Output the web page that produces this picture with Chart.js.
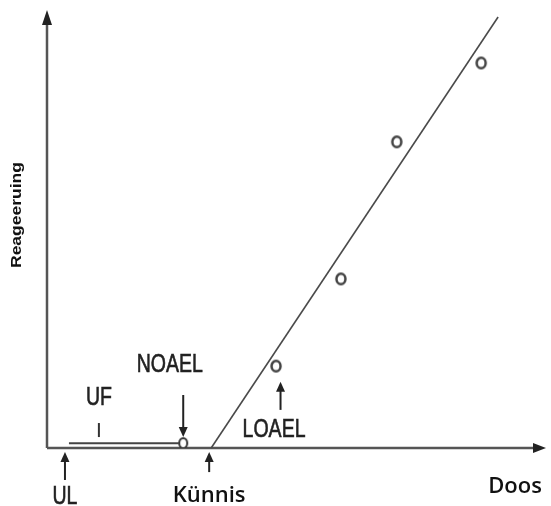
<!DOCTYPE html>
<html>
<head>
<meta charset="utf-8">
<script src="https://cdn.jsdelivr.net/npm/chart.js@4.4.0/dist/chart.umd.min.js"></script>
<style>
  html, body { margin: 0; padding: 0; background: #fff; }
  #wrap { width: 551px; height: 506px; }
</style>
</head>
<body>
<div id="wrap"><canvas id="doseChart" width="551" height="506"></canvas></div>
<script>
// observed responses (dose, response), arbitrary units 0-100
const obsDose = [45.9, 58.9, 70.1, 87.0];
const obsResponse = [18.7, 38.6, 69.9, 87.9];

// fitted line from the threshold upward
const fitDose = [32.9, 90.4];
const fitResponse = [0, 98.4];

// UF segment, from UL to NOAEL
const ufDose = [4.4, 26.5];
const ufResponse = [1.1, 1.1];
const noaelDose = [27.3];
const noaelResponse = [1.1];

// text labels
const labelText = ['NOAEL', 'UF', 'LOAEL', 'UL', 'Künnis', 'Doos'];
const labelDose = [24.6, 10.4, 45.5, 3.6, 32.5, 93.8];
const labelResponse = [18.9, 11.4, 4.1, -11.2, -11.0, -8.9];

// pointer arrows: dose, tail response, head response
const arrowDose = [27.3, 3.6, 32.5, 46.8];
const arrowFrom = [12.1, -7.3, -5.5, 8.7];
const arrowTo = [2.5, -0.9, -0.9, 15.1];

const axisTitleX = 'Doos';
const axisTitleY = 'Reageeruing';

function toPoints(xs, ys) {
    return xs.map((x, i) => ({ x: x, y: ys[i] }));
}

// slightly tall "o" marker like in the drawing
function ovalMarker(rx, ry, lw, color) {
    const c = document.createElement('canvas');
    c.width = Math.ceil(2 * rx + lw + 2);
    c.height = Math.ceil(2 * ry + lw + 2);
    const g = c.getContext('2d');
    g.fillStyle = '#fff';
    g.strokeStyle = color;
    g.lineWidth = lw;
    g.beginPath();
    g.ellipse(c.width / 2, c.height / 2, rx, ry, 0, 0, Math.PI * 2);
    g.fill();
    g.stroke();
    return c;
}

function arrowHead(ctx, x, y, dir, w, h) {
    // dir: 'up', 'down', 'right'
    ctx.beginPath();
    if (dir === 'up') {
        ctx.moveTo(x, y); ctx.lineTo(x - w / 2, y + h); ctx.lineTo(x + w / 2, y + h);
    } else if (dir === 'down') {
        ctx.moveTo(x, y); ctx.lineTo(x - w / 2, y - h); ctx.lineTo(x + w / 2, y - h);
    } else {
        ctx.moveTo(x, y); ctx.lineTo(x - h, y - w / 2); ctx.lineTo(x - h, y + w / 2);
    }
    ctx.closePath();
    ctx.fill();
}

const diagramPlugin = {
    id: 'diagram',
    beforeDatasetsDraw(chart) {
        const ctx = chart.ctx;
        const a = chart.chartArea;
        ctx.save();
        // axes with arrowheads
        ctx.strokeStyle = '#555';
        ctx.fillStyle = '#222';
        ctx.lineWidth = 2.5;
        ctx.beginPath();
        ctx.moveTo(a.left, a.bottom);
        ctx.lineTo(a.left, a.top + 12);
        ctx.moveTo(a.left, a.bottom);
        ctx.lineTo(a.right - 10, a.bottom);
        ctx.stroke();
        arrowHead(ctx, a.left, a.top, 'up', 10, 15);
        arrowHead(ctx, a.right, a.bottom, 'right', 10, 13);
        ctx.restore();
    },
    afterDatasetsDraw(chart) {
        const ctx = chart.ctx;
        const xs = chart.scales.x, ys = chart.scales.y;
        ctx.save();

        // pointer arrows
        ctx.strokeStyle = '#222';
        ctx.fillStyle = '#222';
        ctx.lineWidth = 2;
        arrowDose.forEach((d, i) => {
            const px = xs.getPixelForValue(d);
            const y0 = ys.getPixelForValue(arrowFrom[i]);
            const y1 = ys.getPixelForValue(arrowTo[i]);
            const dir = y1 < y0 ? 'up' : 'down';
            ctx.beginPath();
            ctx.moveTo(px, y0);
            ctx.lineTo(px, dir === 'up' ? y1 + 8 : y1 - 8);
            ctx.stroke();
            arrowHead(ctx, px, y1, dir, 9, 10);
        });

        // small tick under UF
        const tx = xs.getPixelForValue(labelDose[1]);
        ctx.lineWidth = 2;
        ctx.strokeStyle = '#333';
        ctx.beginPath();
        ctx.moveTo(tx, ys.getPixelForValue(5.7));
        ctx.lineTo(tx, ys.getPixelForValue(2.5));
        ctx.stroke();

        // labels
        ctx.textAlign = 'center';
        ctx.textBaseline = 'middle';
        labelText.forEach((t, i) => {
            const px = xs.getPixelForValue(labelDose[i]);
            const py = ys.getPixelForValue(labelResponse[i]);
            ctx.save();
            ctx.translate(px, py);
            if (t === 'Künnis' || t === 'Doos') {
                ctx.fillStyle = '#111';
                ctx.font = '600 22px "Open Sans"';
                ctx.fillText(t, 0, 0);
            } else {
                ctx.fillStyle = '#222';
                ctx.strokeStyle = '#222';
                ctx.lineWidth = 0.6;
                ctx.font = '25px "Liberation Sans"';
                ctx.scale(0.78, 1);
                ctx.fillText(t, 0, 0);
                ctx.strokeText(t, 0, 0);
            }
            ctx.restore();
        });

        // rotated y title
        ctx.save();
        ctx.translate(17, 215);
        ctx.rotate(-Math.PI / 2);
        ctx.font = 'bold 14px "Liberation Sans"';
        const w = ctx.measureText(axisTitleY).width;
        ctx.scale(106 / w, 1);
        ctx.fillStyle = '#111';
        ctx.fillText(axisTitleY, 0, 0);
        ctx.restore();

        ctx.restore();
    }
};

new Chart(document.getElementById('doseChart'), {
    type: 'scatter',
    data: {
        datasets: [
            {
                label: 'fit',
                data: toPoints(fitDose, fitResponse),
                showLine: true,
                borderColor: '#4a4a4a',
                borderWidth: 1.6,
                pointRadius: 0,
                clip: false
            },
            {
                label: 'UF',
                data: toPoints(ufDose, ufResponse),
                showLine: true,
                borderColor: '#444',
                borderWidth: 2,
                pointRadius: 0
            },
            {
                label: 'NOAEL',
                data: toPoints(noaelDose, noaelResponse),
                pointStyle: ovalMarker(4, 5, 2, '#333')
            },
            {
                label: 'observed',
                data: toPoints(obsDose, obsResponse),
                pointStyle: ovalMarker(4.5, 5.2, 2.5, '#444')
            }
        ]
    },
    options: {
        responsive: false,
        animation: false,
        layout: { padding: { left: 47, top: 10, right: 3, bottom: 58 } },
        plugins: {
            legend: { display: false },
            tooltip: { enabled: false }
        },
        scales: {
            x: { type: 'linear', min: 0, max: 100, display: false },
            y: { type: 'linear', min: 0, max: 100, display: false }
        }
    },
    plugins: [diagramPlugin]
});
</script>
</body>
</html>
